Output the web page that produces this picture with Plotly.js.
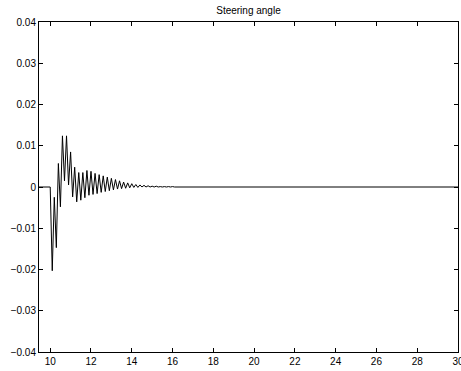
<!DOCTYPE html>
<html>
<head>
<meta charset="utf-8">
<script src="https://cdn.plot.ly/plotly-3.0.1.min.js"></script>
<style>html,body{margin:0;padding:0;background:#fff;}#chart{width:461px;height:371px;}</style>
</head>
<body>
<div id="chart"></div>
<script>
const timeValues = [9.4, 10.0, 10.1, 10.2, 10.3, 10.4, 10.5, 10.6, 10.7, 10.8, 10.9,
  11.0, 11.1, 11.2, 11.3, 11.4, 11.5, 11.6, 11.7, 11.8, 11.9,
  12.0, 12.1, 12.2, 12.3, 12.4, 12.5, 12.6, 12.7, 12.8, 12.9,
  13.0, 13.1, 13.2, 13.3, 13.4, 13.5, 13.6, 13.7, 13.8, 13.9,
  14.0, 14.1, 14.2, 14.3, 14.4, 14.5, 14.6, 14.7, 14.8, 14.9,
  15.0, 15.1, 15.2, 15.3, 15.4, 15.5, 15.6, 15.7, 15.8, 15.9,
  16.0, 16.1, 16.2, 30.0];
const steeringAngle = [0, 0, -0.0203, -0.0025, -0.0147, 0.0057, -0.0048, 0.0124, 0.0015, 0.0124, 0.0005,
  0.0085, -0.0024, 0.0048, -0.0036, 0.0035, -0.0032, 0.0035, -0.0026, 0.0040, -0.0020,
  0.0038, -0.0018, 0.0033, -0.0016, 0.0030, -0.0013, 0.0027, -0.0011, 0.0024, -0.0009,
  0.0021, -0.0007, 0.0018, -0.0005, 0.0015, -0.0004, 0.0012, -0.0003, 0.0010, -0.0002,
  0.0008, -0.0001, 0.0006, -0.0001, 0.0005, 0.0000, 0.0004, 0.0000, 0.0003, 0.0000,
  0.0002, 0.0000, 0.0002, 0.0000, 0.0001, 0.0000, 0.0001, 0.0000, 0.0001, 0.0000,
  0.0001, 0.0000, 0.0000, 0.0000];
const xTicks = [10, 12, 14, 16, 18, 20, 22, 24, 26, 28, 30];
const yTicks = [-0.04, -0.03, -0.02, -0.01, 0, 0.01, 0.02, 0.03, 0.04];
const yTickLabels = ['\u22120.04', '\u22120.03', '\u22120.02', '\u22120.01', '0', '0.01', '0.02', '0.03', '0.04'];

const trace = {
  x: timeValues, y: steeringAngle, type: 'scatter', mode: 'lines',
  line: {color: '#000', width: 1}, hoverinfo: 'none', cliponaxis: true
};
const axisCommon = {
  showline: true, linecolor: '#000', linewidth: 1, mirror: 'ticks',
  ticks: 'inside', ticklen: 4, tickcolor: '#000', tickwidth: 1,
  showgrid: false, zeroline: false, ticklabeloverflow: 'allow',
  tickfont: {family: 'Liberation Sans, Arial, sans-serif', size: 10, color: '#000'}
};
const layout = {
  width: 461, height: 371,
  margin: {l: 39, r: 3, t: 22, b: 19},
  paper_bgcolor: '#fff', plot_bgcolor: '#fff',
  showlegend: false,
  title: {text: 'Steering angle', x: 0.539, xanchor: 'center', y: 0.973, yanchor: 'middle',
    font: {family: 'Liberation Sans, Arial, sans-serif', size: 10, color: '#000'}},
  xaxis: Object.assign({}, axisCommon, {range: [9.45, 30.0005], tickvals: xTicks, ticktext: xTicks.map(String)}),
  yaxis: Object.assign({}, axisCommon, {range: [-0.04, 0.04], tickvals: yTicks, ticktext: yTickLabels})
};
Plotly.newPlot('chart', [trace], layout, {staticPlot: true, displayModeBar: false});
</script>
</body>
</html>
